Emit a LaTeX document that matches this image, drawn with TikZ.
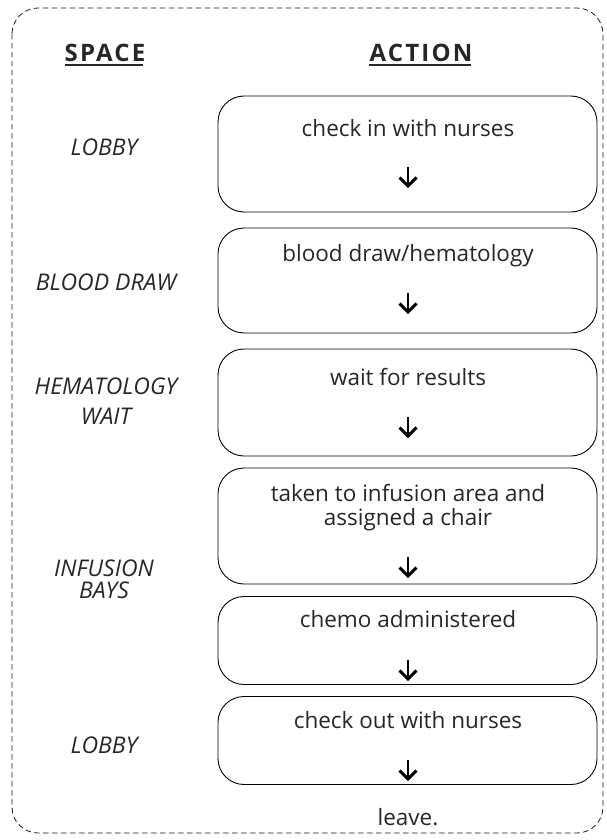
\documentclass[tikz,border=0pt]{standalone}
\usepackage{fontspec}
\setmainfont{Open Sans}
\newfontfamily\headfont[LetterSpace=9]{Open Sans}
\definecolor{ink}{HTML}{262626}
\begin{document}
\begin{tikzpicture}[x=1pt,y=-1pt,
  stepbox/.style={draw=black, line width=0.9pt, rounded corners=26pt,
    minimum width=379pt, inner sep=0pt},
  acttext/.style={text=ink, font=\fontsize{22.5}{24}\selectfont, align=center, inner sep=0pt},
  spacetext/.style={text=ink, font=\fontsize{23}{20}\selectfont\itshape, align=center, inner sep=0pt},
  headtext/.style={text=ink, font=\fontsize{24}{26}\selectfont\headfont\bfseries, inner sep=0pt},
  headline/.style={draw=ink, line width=2pt},
  downarrow/.style={draw=black, line width=2.9pt},
]
\useasboundingbox (0,0) rectangle (607,840);
% dashed outer frame
\draw[black!90, line width=0.8pt, dash pattern=on 5.5pt off 3.5pt, rounded corners=26pt]
  (12,8) rectangle (603,833);

% column headings
\node[headtext, anchor=base] (hspace) at (105,62) {SPACE};
\node[headtext, anchor=base] (haction) at (421,62) {ACTION};
\draw[headline] ([yshift=-3.5pt]hspace.base west) -- ([yshift=-3.5pt,xshift=-2pt]hspace.base east);
\draw[headline] ([yshift=-3.5pt]haction.base west) -- ([yshift=-3.5pt,xshift=-2pt]haction.base east);

% action boxes
\node[stepbox, minimum height=116pt] (b1) at (407.5,154) {};
\node[stepbox, minimum height=105pt] (b2) at (407.5,280.5) {};
\node[stepbox, minimum height=107pt] (b3) at (407.5,402.5) {};
\node[stepbox, minimum height=116pt] (b4) at (407.5,526) {};
\node[stepbox, minimum height=88pt] (b5) at (407.5,640.5) {};
\node[stepbox, minimum height=88pt] (b6) at (407.5,740.5) {};

% action texts
\node[acttext] (t1) at (408,128) {check in with nurses};
\node[acttext] (t2) at (408,256) {blood draw/hematology};
\node[acttext] (t3) at (408,377) {wait for results};
\node[acttext] (t4) at (408,508) {taken to infusion area and\\assigned a chair};
\node[acttext] (t5) at (408,619) {chemo administered};
\node[acttext] (t6) at (408,720) {check out with nurses};
\node[acttext] (t7) at (408,817) {leave.};

% down arrows inside the boxes
\foreach \n/\y in {a1/177, a2/303, a3/427, a4/567, a5/670, a6/770}{
  \coordinate (\n) at (408,\y);
  \draw[downarrow] ([yshift=10pt]\n) -- ([yshift=-9pt]\n);
  \draw[downarrow, line join=miter] ([xshift=-8.5pt,yshift=-0.5pt]\n) -- ([yshift=-9pt]\n) -- ([xshift=8.5pt,yshift=-0.5pt]\n);
}

% space labels
\node[spacetext] (s1) at (104,147) {LOBBY};
\node[spacetext] (s2) at (106,282) {BLOOD DRAW};
\node[spacetext, font=\fontsize{23}{30}\selectfont\itshape] (s3) at (106,401) {HEMATOLOGY\\WAIT};
\node[spacetext, font=\fontsize{23}{22}\selectfont\itshape] (s4) at (104,579) {INFUSION\\BAYS};
\node[spacetext] (s5) at (104,745) {LOBBY};
\end{tikzpicture}
\end{document}
